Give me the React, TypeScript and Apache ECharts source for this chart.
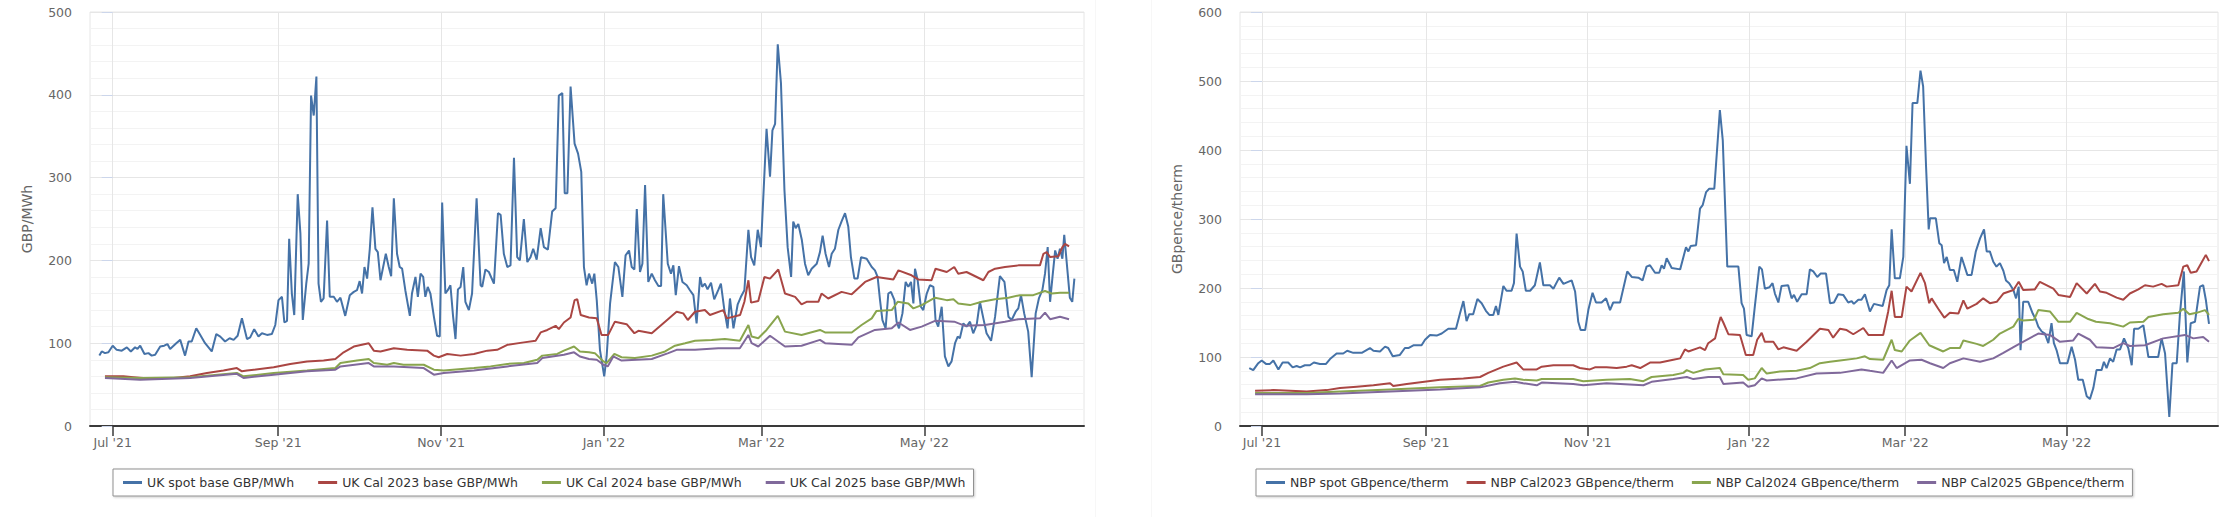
import React, { useEffect, useRef } from "react";
import * as echarts from "echarts";

// x values are days since 1 Jul 2021
const xTickDates = ["2021-07-01", "2021-09-01", "2021-11-01", "2022-01-01", "2022-03-01", "2022-05-01"];
const xTickLabels = ["Jul '21", "Sep '21", "Nov '21", "Jan '22", "Mar '22", "May '22"];

const ukNames = ["UK spot base GBP/MWh", "UK Cal 2023 base GBP/MWh", "UK Cal 2024 base GBP/MWh", "UK Cal 2025 base GBP/MWh"];
const nbpNames = ["NBP spot GBpence/therm", "NBP Cal2023 GBpence/therm", "NBP Cal2024 GBpence/therm", "NBP Cal2025 GBpence/therm"];
const colors = ["#4572A7", "#AA4643", "#89A54E", "#80699B"];

const ukSpot = [[-5,85],[-4.1,90],[-2.9,88],[-1.6,89],[0,97],[1.5,92],[3.4,91],[5.3,95],[6.8,90],[8.4,95],[9.3,93],[10.3,97],[11.9,87],[13.4,88],[14.6,85],[15.9,86],[17.8,96],[19.3,97],[20.5,99],[21.5,93],[23.8,100],[25.3,104],[27.1,85],[28.4,102],[29.6,102],[31.3,118],[32.8,110],[34.6,100],[37.1,90],[38.8,111],[40.3,108],[42.1,102],[43.8,106],[45.3,104],[46.8,109],[48.4,130],[50.3,105],[51.5,107],[53,117],[54.6,108],[55.9,112],[57.8,110],[59.6,111],[60.9,122],[62.1,152],[63.4,156],[64.3,125],[65.3,127],[66.1,226],[67.1,160],[68,134],[69.3,280],[70.3,233],[71.2,128],[72.5,172],[73.4,196],[74.3,399],[75.3,375],[76.3,422],[77.1,172],[78,150],[79,154],[80.3,248],[81.3,156],[82.8,156],[84,150],[85.3,155],[87.1,133],[88.8,158],[90.3,162],[91.5,164],[92.5,175],[93.4,160],[94.3,192],[95.3,178],[96.3,214],[97.3,264],[98.4,214],[99.3,210],[100.3,176],[101.3,192],[102.3,208],[103.4,192],[104.3,181],[105.3,275],[106.5,208],[107.5,192],[108.4,190],[109.6,164],[111.3,133],[112.1,160],[113.4,180],[114.3,156],[115.3,184],[116.3,180],[117.1,156],[118,168],[119,160],[120.3,132],[121.5,109],[122.5,108],[123.4,270],[124.6,160],[125.5,164],[126.5,170],[127.5,132],[128.4,105],[129.3,165],[130.3,168],[131.3,192],[132.1,150],[133.4,140],[134.6,160],[136.3,275],[137.8,170],[138.4,168],[139.6,189],[140.9,186],[142.8,172],[144.3,257],[145.3,255],[146.5,208],[147.8,192],[149,194],[150.3,324],[151.5,204],[152.5,200],[154,250],[155.3,198],[156.5,204],[157.5,214],[158.8,201],[160.3,239],[161.5,216],[163,213],[164.6,259],[165.9,263],[167.1,399],[168.4,402],[169.3,281],[170.3,281],[171.5,410],[173,341],[174.3,329],[175.5,307],[176.5,192],[177.5,170],[178.4,184],[179.6,172],[180.4,184],[181.3,152],[182.5,92],[184.1,60],[185,84],[186.3,148],[188.1,198],[189.4,192],[190.9,156],[192.1,206],[193.4,212],[194.4,192],[195.4,189],[196.3,262],[197.5,186],[198.4,196],[199.4,291],[200.6,174],[201.9,184],[203.1,176],[204.4,169],[205.4,169],[206.2,280],[207.9,196],[209.1,184],[210,194],[210.9,158],[212.1,193],[213.4,174],[215,170],[216.2,164],[217.5,158],[218.7,124],[220,180],[220.8,168],[221.8,172],[222.8,165],[224.1,173],[225.3,153],[226.8,164],[227.8,172],[229.1,140],[230.3,118],[231.2,154],[232.5,118],[234.1,147],[235.3,156],[236.6,164],[238.1,237],[239.1,204],[240.3,194],[241.6,237],[242.8,216],[244.9,359],[246.2,301],[247.1,357],[248.1,365],[249.1,461],[250.3,414],[251.6,285],[252.8,216],[254.1,180],[254.9,247],[255.8,239],[256.8,244],[258.1,225],[259.3,196],[260.5,182],[261.8,190],[263.7,196],[264.9,210],[265.9,230],[267,208],[268.3,192],[269.3,208],[270.5,214],[271.8,237],[273,247],[274.3,257],[275.5,241],[276.5,204],[277.8,178],[279,178],[280.3,204],[282.4,202],[284.3,192],[285.5,188],[286.5,180],[287.4,152],[288.3,128],[289.5,118],[290.5,160],[291.5,162],[292.8,152],[293.6,126],[294.5,118],[295.8,136],[297,174],[298,168],[299,174],[299.9,148],[300.5,190],[301.5,176],[302.7,144],[303.6,140],[304.9,160],[306.1,170],[307.4,168],[308.2,128],[309.2,120],[310.5,144],[311.7,84],[313,72],[314.2,78],[315.5,100],[316.5,108],[317.3,106],[318.6,124],[319.8,120],[321.1,126],[322.3,112],[323.6,122],[324.8,150],[326.1,130],[327.3,112],[329,103],[330.5,132],[332.3,181],[334,174],[335.5,132],[336.7,128],[338.2,138],[339.2,142],[340.2,158],[341.4,136],[342.9,114],[344.2,59],[345.7,136],[346.9,154],[348.2,164],[349.2,184],[350.2,216],[351.1,150],[352,180],[353,212],[353.9,202],[354.8,214],[355.7,202],[356.4,231],[357.7,184],[358.5,155],[359.4,150],[360.2,178]];

const ukCal23 = [[-2.9,60],[4,60],[7.8,59],[11.5,58],[22.8,58],[29,60],[35.3,64],[41.5,67],[46.5,70],[48.4,66],[50.3,67],[60.3,71],[66.5,75],[72.8,78],[79,79],[83.4,81],[86.5,89],[90.3,96],[95.9,100],[97.8,91],[100.3,90],[105.3,94],[110.3,92],[117.8,91],[120.3,85],[122.1,83],[125.3,87],[130.3,85],[135.3,87],[140.3,91],[144,92],[147.8,98],[154,101],[158.4,103],[160.3,113],[162.8,116],[165.9,121],[167.1,117],[169,125],[171.5,131],[173,152],[174,153],[175.3,134],[178.4,131],[181.3,130],[183.1,110],[185.6,110],[188.1,126],[192.5,123],[195.4,112],[196.9,115],[201.9,112],[206.9,126],[211.2,138],[213.7,136],[215.4,128],[218.1,138],[221.8,140],[223.7,134],[228.7,140],[230,130],[235,134],[236.6,150],[238.1,176],[239.1,149],[241.8,151],[244.1,180],[246.2,178],[249.3,189],[251.8,160],[255.6,156],[258,147],[259.9,150],[264.3,150],[265.5,160],[268,154],[273,162],[276.8,159],[281.8,174],[286.1,180],[292.4,177],[294.3,188],[299.2,182],[301.7,177],[306.7,176],[308.2,190],[312.4,186],[315.2,192],[316.7,184],[319.8,186],[326.1,176],[328,186],[330.5,190],[334.2,192],[339.2,194],[344.2,194],[347.3,194],[348.6,208],[349.8,210],[351.1,204],[354.2,205],[355.7,216],[356.7,220],[358.2,217]];

const ukCal24 = [[-2.9,59],[10.3,58],[29,59],[46.5,64],[49,60],[60.3,64],[72.8,67],[83.4,70],[85.3,76],[91.5,79],[95.9,81],[97.8,76],[102.8,74],[105.3,76],[108.9,74],[116.5,74],[120.3,68],[124,67],[135.3,70],[141.5,72],[147.8,75],[154,76],[159,80],[160.9,85],[166.5,87],[169,91],[172.8,96],[175,90],[178.4,89],[180.6,88],[183.8,78],[185,76],[187.9,87],[190.6,83],[195.6,82],[201.9,85],[206.9,90],[210.6,97],[214.4,100],[218.1,103],[224.3,104],[229.3,105],[234.9,103],[238.1,122],[239.3,108],[241.8,106],[244.9,116],[249.1,133],[251.8,114],[258,110],[264.9,116],[266.8,113],[276.8,113],[280.5,122],[284.3,130],[286.1,139],[291.8,140],[294,150],[298,148],[299.9,142],[303,146],[308,155],[312.4,152],[314.9,153],[316.7,148],[321.1,146],[325.5,150],[330.5,153],[335.5,155],[339.8,158],[344.8,158],[349.2,163],[351.7,160],[354.8,161],[358.2,161]];

const ukCal25 = [[-2.9,58],[10.3,56],[29,58],[46.5,63],[49,58],[60.3,62],[72.8,66],[83.4,68],[85.3,72],[95.9,76],[97.8,72],[105.3,72],[116.5,70],[120.3,62],[124,64],[135.3,67],[147.8,72],[159,76],[160.9,82],[169,86],[172.8,89],[175,84],[178.4,81],[181.3,80],[183.8,74],[185.4,72],[187.5,84],[190.6,79],[201.9,81],[208.1,88],[211.2,92],[218.1,92],[226.8,94],[234.9,94],[238.1,110],[239.3,100],[241.8,96],[246.2,109],[251.8,96],[258,97],[264.9,104],[266.8,100],[276.8,98],[279.3,107],[285.5,116],[291.8,118],[294.3,125],[298.6,116],[303,120],[308,127],[315.2,126],[319.2,121],[326.7,122],[334.2,126],[339.2,129],[347.3,130],[349.2,137],[351.1,129],[354.8,132],[358.2,129]];

const nbpSpot = [[-4.8,84],[-3.3,81],[-1.4,91],[-0.1,95],[1.5,90],[3,90],[4.3,95],[6.2,82],[7.8,92],[9.9,92],[11.6,85],[13.1,87],[14.4,85],[16.2,88],[18.1,88],[19.6,92],[21.9,90],[24.2,90],[25.7,97],[28.2,105],[30.7,105],[32.2,109],[34.5,106],[37.7,106],[40.8,113],[42.1,109],[44.6,108],[46.5,115],[47.7,113],[49.4,101],[52.1,103],[54,113],[55.3,113],[57.2,117],[60.3,117],[61.6,125],[63.5,132],[66,131],[67.9,134],[70.4,141],[73.3,141],[74.8,163],[76.1,181],[77.3,152],[78.3,162],[79.8,162],[81.4,184],[83,178],[84.6,167],[85.9,161],[87.4,161],[88.4,174],[89.3,161],[91.2,203],[92.4,196],[94.3,196],[95.2,207],[96.2,279],[97.5,231],[98.5,224],[99.7,196],[101.3,196],[103.1,204],[105,237],[106.3,204],[108.8,204],[110.1,199],[112.3,215],[113.9,206],[117,211],[118.3,195],[119.5,151],[120.4,139],[122.1,139],[123.3,168],[124.9,193],[126.2,179],[128.3,179],[130,185],[131.5,168],[132.7,179],[135.3,179],[138,224],[139.7,216],[142.2,215],[143.8,211],[145.3,231],[146.6,233],[148.5,222],[150.1,222],[151,233],[151.9,228],[152.9,243],[154.8,229],[158,227],[160.2,259],[161.1,253],[162,261],[164,262],[165.5,315],[166.5,320],[167.8,339],[169,344],[170.9,344],[173,458],[174.1,414],[175.8,231],[180,231],[181.2,178],[182.1,170],[183.1,132],[185,130],[186.2,173],[187.9,231],[188.9,227],[190,199],[191.7,201],[192.9,207],[193.8,192],[195.1,179],[196.3,203],[198.8,204],[200.1,185],[201,190],[202.2,180],[203.9,191],[205.8,191],[207,227],[208.3,224],[209.8,216],[211.1,221],[213.1,221],[214.6,178],[216.1,179],[217.7,191],[219.6,190],[221.5,179],[222.8,181],[223.6,177],[225.3,183],[226.5,183],[227.8,191],[229.7,166],[231.2,177],[234.5,174],[236,197],[237,204],[237.9,285],[239.1,214],[241,214],[242.3,245],[243.5,406],[244.8,351],[245.8,468],[247.6,468],[248.8,515],[249.8,492],[250.9,376],[251.9,285],[252.4,301],[254.6,301],[255.9,265],[256.8,262],[257.7,236],[258.7,245],[259.9,226],[261.4,226],[262.7,209],[264.3,245],[266.5,219],[268.1,219],[269.7,253],[271.3,272],[272.8,285],[273.8,253],[275,253],[276.3,238],[277.5,231],[278.8,236],[280.1,225],[281.1,211],[282.3,207],[283.9,197],[284.9,185],[285.9,202],[286.6,110],[287.6,180],[289.5,180],[291.2,163],[292.4,154],[293.3,144],[294.6,137],[295.8,134],[297.1,120],[298.3,149],[299.2,120],[300.2,110],[301.5,91],[304.3,91],[305.9,115],[307.2,96],[308.4,67],[310.1,67],[311.6,43],[312.8,39],[314.1,55],[315.3,81],[317.2,81],[318.1,93],[319.1,84],[320.4,98],[321.6,93],[322.9,111],[324.2,111],[325.7,127],[327.3,113],[328.6,88],[329.5,141],[331.1,141],[333,146],[334.9,100],[338.6,100],[339.9,127],[341.2,105],[342.8,13],[344,91],[345.6,91],[346.8,161],[348.3,224],[349.6,92],[350.9,149],[352.5,151],[354.4,202],[355.6,204],[356.6,183],[357.8,148]];

const nbpCal23 = [[-2.6,51],[4.3,52],[10.6,51],[16.9,50],[24.4,52],[29.5,55],[35.8,57],[42.1,59],[48.4,62],[49.6,58],[54.7,61],[67.3,67],[76.1,69],[82.4,71],[85.5,77],[91.2,86],[96.2,92],[98.7,82],[103.8,82],[105.7,86],[110.1,88],[117.6,88],[120.1,84],[123.9,82],[125.8,85],[130.2,85],[134,84],[137.8,86],[139.7,88],[142.9,84],[146.6,92],[150.4,92],[155.4,96],[158,98],[159.8,111],[161.1,108],[165.5,114],[167.4,110],[168.6,120],[171.2,127],[172.4,146],[173.3,158],[174.3,150],[176.2,133],[180.6,132],[182.8,103],[185.6,103],[187.1,125],[188.8,135],[190,122],[193.2,122],[195.1,111],[197,114],[202,109],[205.8,122],[210.8,141],[214,139],[215.8,128],[218.4,141],[220.9,139],[223.4,133],[227.2,142],[229.1,132],[234.7,132],[236.6,166],[237.9,196],[239.1,158],[241.7,158],[243.5,202],[245.4,195],[248.8,222],[250.5,207],[252.1,178],[253,185],[255.5,170],[257.8,157],[259.9,164],[263.1,163],[265,182],[266.5,170],[270,177],[272.5,185],[275,178],[277.6,180],[280.1,192],[283.9,197],[285.9,209],[287.6,197],[292,198],[293.9,209],[299,199],[300.9,190],[305.3,187],[307.8,207],[311.6,192],[314.7,206],[316.6,195],[319.1,193],[322.9,186],[325.4,183],[327.9,192],[331.1,198],[333.6,204],[336.7,202],[339.9,206],[341.8,202],[346.2,204],[348.1,231],[349.6,233],[350.9,222],[353.1,224],[355,237],[356.6,248],[357.8,239]];

const nbpCal24 = [[-2.6,48],[16.9,48],[29.5,50],[48.4,53],[67.3,56],[82.4,58],[85.5,63],[91.2,67],[95.6,69],[98.7,67],[103.8,66],[105.7,68],[117.6,68],[121.4,65],[130.2,67],[139,68],[144.1,65],[147.2,71],[155.4,74],[159.2,77],[160.5,81],[163,77],[167.4,82],[173,84],[174.3,75],[181.8,74],[183.7,67],[186.2,69],[188.8,84],[190.7,76],[195.7,79],[202,80],[207,84],[210.8,91],[214.6,93],[218.4,95],[224.7,98],[227.8,101],[229.7,97],[234.7,96],[237.9,125],[239.1,110],[241.7,108],[244.8,124],[248.8,135],[252.1,117],[257.4,108],[259.9,113],[263.7,113],[265,124],[270,119],[272.5,116],[276.3,125],[278.8,134],[283.9,144],[285.7,155],[287.6,153],[291.7,154],[293.3,168],[297.7,166],[300.9,151],[305.3,151],[307.8,164],[312.2,155],[315.1,151],[320.4,149],[325.4,144],[327.9,150],[333,151],[334.9,158],[340.5,162],[346.2,164],[348.1,170],[350.4,162],[353.1,164],[356.3,168],[357.8,161]];

const nbpCal25 = [[-2.6,46],[16.9,46],[29.5,47],[48.4,50],[67.3,53],[82.4,56],[89.9,62],[95.6,64],[98.7,62],[103.8,59],[105.7,63],[117.6,61],[121.4,59],[130.2,62],[144.1,59],[147.2,64],[155.4,68],[160.5,71],[163,68],[168.6,71],[173,71],[174.3,61],[181.8,63],[183.7,57],[186.2,59],[188.8,69],[190.7,66],[202,69],[209.5,76],[218.4,77],[226.5,82],[229.7,80],[234.7,77],[237.9,95],[239.8,84],[244.8,95],[249.2,96],[252.4,91],[257.4,84],[259.9,91],[265,98],[271.3,93],[276.3,98],[280.1,106],[285.1,117],[293.3,134],[297.7,132],[301.5,122],[306.5,124],[308.4,134],[312.8,125],[315.3,114],[321.6,113],[325.4,120],[327.9,116],[333.6,117],[340.5,127],[348.7,132],[351.9,127],[355.6,129],[357.8,122]];

const FONT = "DejaVu Sans";
const DAY0 = Date.parse("2021-07-01T00:00:00Z");
const tickDays = xTickDates.map((d) => Math.round((Date.parse(d + "T00:00:00Z") - DAY0) / 86400000));

function xAxisFor(gridIndex: number, min: number, max: number) {
  return {
    type: "value",
    gridIndex,
    min,
    max,
    axisLine: { show: true, onZero: false, lineStyle: { color: "#3a3a3a", width: 2 } },
    axisTick: { show: true, customValues: tickDays, length: 10, lineStyle: { color: "#3a3a3a", width: 1.5 } },
    axisLabel: {
      customValues: tickDays,
      formatter: (v: number) => {
        const i = tickDays.indexOf(Math.round(v));
        return i >= 0 ? xTickLabels[i] : "";
      },
      margin: 10,
      color: "#666",
      fontSize: 12.5,
      fontFamily: FONT,
    },
    splitLine: { show: true, lineStyle: { color: "#e6e6e6", width: 1 } },
  };
}

function yAxisFor(gridIndex: number, max: number, name: string) {
  return {
    type: "value",
    gridIndex,
    min: 0,
    max,
    interval: 100,
    name,
    nameLocation: "middle",
    nameGap: 56,
    nameTextStyle: { color: "#666", fontSize: 14, fontFamily: FONT },
    axisLine: { show: false },
    axisTick: { show: true, length: 11, lineStyle: { color: "#ccd6eb" } },
    axisLabel: { margin: 18, color: "#666", fontSize: 12.5, fontFamily: FONT },
    splitLine: { show: true, lineStyle: { color: "#e6e6e6" } },
    minorTick: { show: false, splitNumber: 5 },
    minorSplitLine: { show: true, lineStyle: { color: "#f3f3f3" } },
  };
}

function legendFor(names: string[], left: number, gap: number) {
  return {
    data: names,
    left,
    top: 469,
    orient: "horizontal",
    selectedMode: false,
    icon: "rect",
    itemWidth: 19,
    itemHeight: 3,
    itemGap: gap,
    padding: [7, 8, 7, 10],
    borderColor: "#909090",
    borderWidth: 1,
    backgroundColor: "#fff",
    shadowBlur: 2,
    shadowColor: "rgba(0,0,0,0.2)",
    shadowOffsetX: 1,
    shadowOffsetY: 1,
    textStyle: { color: "#333", fontSize: 12.5, fontFamily: FONT },
  };
}

function lineSeries(name: string, data: number[][], color: string, idx: number) {
  return {
    type: "line",
    name,
    data,
    xAxisIndex: idx,
    yAxisIndex: idx,
    showSymbol: false,
    symbol: "none",
    color,
    lineStyle: { color, width: 2 },
    emphasis: { disabled: true },
  };
}

export default function App() {
  const ref = useRef<HTMLDivElement>(null);
  useEffect(() => {
    if (!ref.current) return;
    const chart = echarts.init(ref.current, undefined, { renderer: "svg" });
    const ukData = [ukSpot, ukCal23, ukCal24, ukCal25];
    const nbpData = [nbpSpot, nbpCal23, nbpCal24, nbpCal25];
    chart.setOption({
      animation: false,
      backgroundColor: "#fff",
      textStyle: { fontFamily: FONT },
      grid: [
        { left: 90, top: 12, width: 994, height: 414, show: true, borderColor: "#e6e6e6", borderWidth: 1, containLabel: false, outerBoundsMode: "none" },
        { left: 1240, top: 12, width: 978, height: 414, show: true, borderColor: "#e6e6e6", borderWidth: 1, containLabel: false, outerBoundsMode: "none" },
      ],
      xAxis: [xAxisFor(0, -8.5, 363.8), xAxisFor(1, -8.3, 361.2)],
      yAxis: [yAxisFor(0, 500, "GBP/MWh"), yAxisFor(1, 600, "GBpence/therm")],
      legend: [legendFor(ukNames, 113, 24), legendFor(nbpNames, 1256, 18)],
      graphic: [
        { type: "line", shape: { x1: 1095.5, y1: 0, x2: 1095.5, y2: 517 }, style: { stroke: "#f7f7f7", lineWidth: 1 }, silent: true },
        { type: "line", shape: { x1: 1151.5, y1: 0, x2: 1151.5, y2: 517 }, style: { stroke: "#f7f7f7", lineWidth: 1 }, silent: true },
      ],
      series: [
        ...ukNames.map((n, i) => lineSeries(n, ukData[i], colors[i], 0)),
        ...nbpNames.map((n, i) => lineSeries(n, nbpData[i], colors[i], 1)),
      ],
    });
    return () => chart.dispose();
  }, []);
  return <div ref={ref} style={{ position: "absolute", left: 0, top: 0, width: 2230, height: 517 }} />;
}
